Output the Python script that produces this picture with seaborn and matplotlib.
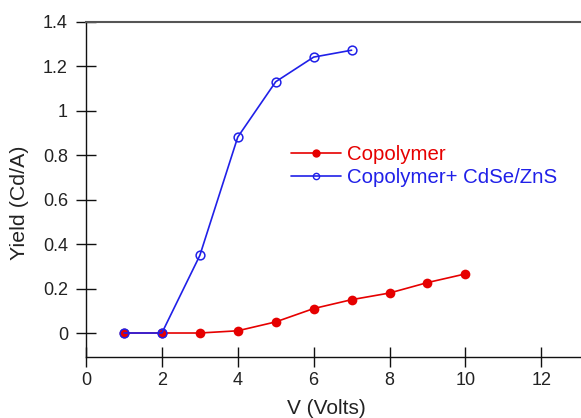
import matplotlib
matplotlib.use("Agg")
import matplotlib.pyplot as plt
import seaborn as sns
import pandas as pd
from matplotlib.lines import Line2D

volts_copolymer = [1, 2, 3, 4, 5, 6, 7, 8, 9, 10]
yield_copolymer = [0.0, 0.0, 0.0, 0.01, 0.05, 0.11, 0.15, 0.18, 0.227, 0.266]
volts_qd = [1, 2, 3, 4, 5, 6, 7]
yield_qd = [0.0, 0.0, 0.349, 0.882, 1.131, 1.242, 1.273]
label_copolymer = "Copolymer"
label_qd = "Copolymer+ CdSe/ZnS"
xticks = [0, 2, 4, 6, 8, 10, 12]
yticks = [0, 0.2, 0.4, 0.6, 0.8, 1.0, 1.2, 1.4]
ytick_labels = ["0", "0.2", "0.4", "0.6", "0.8", "1", "1.2", "1.4"]

sns.set_style("white")
plt.rcParams['font.family'] = ['Liberation Sans', 'DejaVu Sans']

RED = "#e60000"
BLUE = "#2020e8"

W = 1 - 86 / 581 + 0.01
fig = plt.figure(figsize=(5.81, 4.18), dpi=100)
ax = fig.add_axes([86 / 581, 61 / 418, W, (357 - 22) / 418])

df1 = pd.DataFrame({"V": volts_copolymer, "Y": yield_copolymer})
df2 = pd.DataFrame({"V": volts_qd, "Y": yield_qd})

sns.lineplot(data=df1, x="V", y="Y", ax=ax, color=RED, lw=1.2,
             marker="o", markersize=7, markerfacecolor=RED,
             markeredgecolor=RED, markeredgewidth=0, legend=False)
sns.lineplot(data=df2, x="V", y="Y", ax=ax, color=BLUE, lw=1.2,
             marker="o", markersize=6.3, markerfacecolor="none",
             markeredgecolor=BLUE, markeredgewidth=1.1, legend=False)

ax.set_xlim(0, 13.2)
ax.set_ylim(-0.108, 1.4)
ax.set_xticks(xticks)
ax.set_xticklabels([str(t) for t in xticks])
ax.set_yticks(yticks)
ax.set_yticklabels(ytick_labels)

ax.spines["right"].set_visible(False)
for side in ["left", "bottom"]:
    ax.spines[side].set_color("#111111")
    ax.spines[side].set_linewidth(1.0)
ax.spines["top"].set_color("#555555")
ax.spines["top"].set_linewidth(1.5)

ax.tick_params(axis="both", which="major", bottom=True, left=True,
               direction="inout", length=14, width=1.0,
               color="#111111", labelsize=13, labelcolor="#222222")
ax.tick_params(axis="x", pad=4)
ax.tick_params(axis="y", pad=6)

ax.set_xlabel("V (Volts)", fontsize=15, color="#222222")
ax.set_ylabel("Yield (Cd/A)", fontsize=15.4, color="#222222")
ax.xaxis.set_label_coords((326 - 86) / (581 * W), -(408 - 357) / 335)
ax.yaxis.set_label_coords(-(86 - 20) / (581 * W), (357 - 203) / 335)
ax.xaxis.label.set_va("center")
ax.yaxis.label.set_va("center")

handles = [
    Line2D([], [], color=RED, lw=1.2, marker="o", markersize=6,
           markerfacecolor=RED, markeredgewidth=0),
    Line2D([], [], color=BLUE, lw=1.2, marker="o", markersize=4.5,
           markerfacecolor="none", markeredgecolor=BLUE, markeredgewidth=1.0),
]
leg = ax.legend(handles, [label_copolymer, label_qd], loc="upper left",
                bbox_to_anchor=((291 - 86) / (581 * W), (357 - 145) / 335),
                frameon=False, fontsize=14.7, handlelength=2.45, handletextpad=0.3,
                labelspacing=0.2, borderaxespad=0, borderpad=0)
for t, c in zip(leg.get_texts(), [RED, BLUE]):
    t.set_color(c)

fig.savefig("out.png", dpi=100)
